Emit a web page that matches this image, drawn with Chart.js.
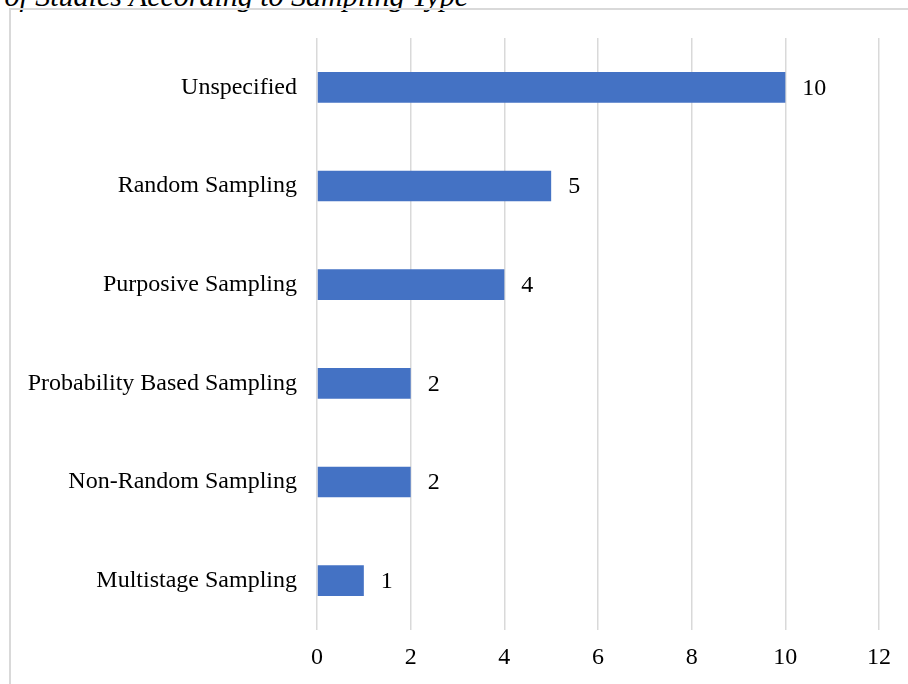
<!DOCTYPE html>
<html>
<head>
<meta charset="utf-8">
<script src="https://cdn.jsdelivr.net/npm/chart.js@4"></script>
<style>
  html, body { margin: 0; padding: 0; background: #fff; overflow: hidden; }
  #wrap { position: relative; width: 908px; height: 684px; overflow: hidden; }
  #title {
    position: absolute; right: 440px; top: -21px; white-space: nowrap;
    font: italic 30px "Liberation Serif", serif; color: #000;
  }
  #frame {
    position: absolute; left: 9px; top: 8px; width: 920px; height: 700px;
    border: 2px solid #d9d9d9; box-sizing: border-box;
  }
  #chart { position: absolute; left: 0; top: 0; }
</style>
</head>
<body>
<div id="wrap">
  <div id="title">Count of Studies According to Sampling Type</div>
  <div id="frame"></div>
  <canvas id="chart" width="908" height="684"></canvas>
</div>
<script>
const categories = [
  'Unspecified',
  'Random Sampling',
  'Purposive Sampling',
  'Probability Based Sampling',
  'Non-Random Sampling',
  'Multistage Sampling',
];
const counts = [10, 5, 4, 2, 2, 1];
const xTicks = [0, 2, 4, 6, 8, 10, 12];

const FONT = '"Liberation Serif", "Times New Roman", serif';

// draws the count to the right of each bar
const valueLabels = {
  id: 'valueLabels',
  afterDatasetsDraw(chart) {
    const { ctx } = chart;
    const meta = chart.getDatasetMeta(0);
    ctx.save();
    ctx.font = '24px ' + FONT;
    ctx.fillStyle = '#000';
    ctx.textAlign = 'left';
    ctx.textBaseline = 'middle';
    meta.data.forEach((bar, i) => {
      ctx.fillText(String(counts[i]), bar.x + 17, bar.y + 1);
    });
    ctx.restore();
  },
};

new Chart(document.getElementById('chart'), {
  type: 'bar',
  data: {
    labels: categories,
    datasets: [{
      data: counts,
      backgroundColor: '#4472C4',
      borderWidth: 0,
      categoryPercentage: 1,
      barPercentage: 0.31,
    }],
  },
  options: {
    indexAxis: 'y',
    responsive: false,
    animation: false,
    layout: { padding: { top: 38, right: 29, bottom: 0, left: 0 } },
    scales: {
      x: {
        min: 0,
        max: 12,
        afterBuildTicks: scale => { scale.ticks = xTicks.map(v => ({ value: v })); },
        ticks: {
          padding: 13,
          font: { family: FONT, size: 24 },
          color: '#000',
        },
        grid: { color: '#d9d9d9', lineWidth: 1.5, drawTicks: false },
        border: { display: false },
        afterFit: scale => { scale.height = 54; },
      },
      y: {
        ticks: {
          padding: 20,
          font: { family: FONT, size: 24 },
          color: '#000',
        },
        grid: { display: false, drawTicks: false },
        border: { display: false },
        afterFit: scale => { scale.width = 317; },
      },
    },
    plugins: {
      legend: { display: false },
      tooltip: { enabled: false },
    },
  },
  plugins: [valueLabels],
});
</script>
</body>
</html>
